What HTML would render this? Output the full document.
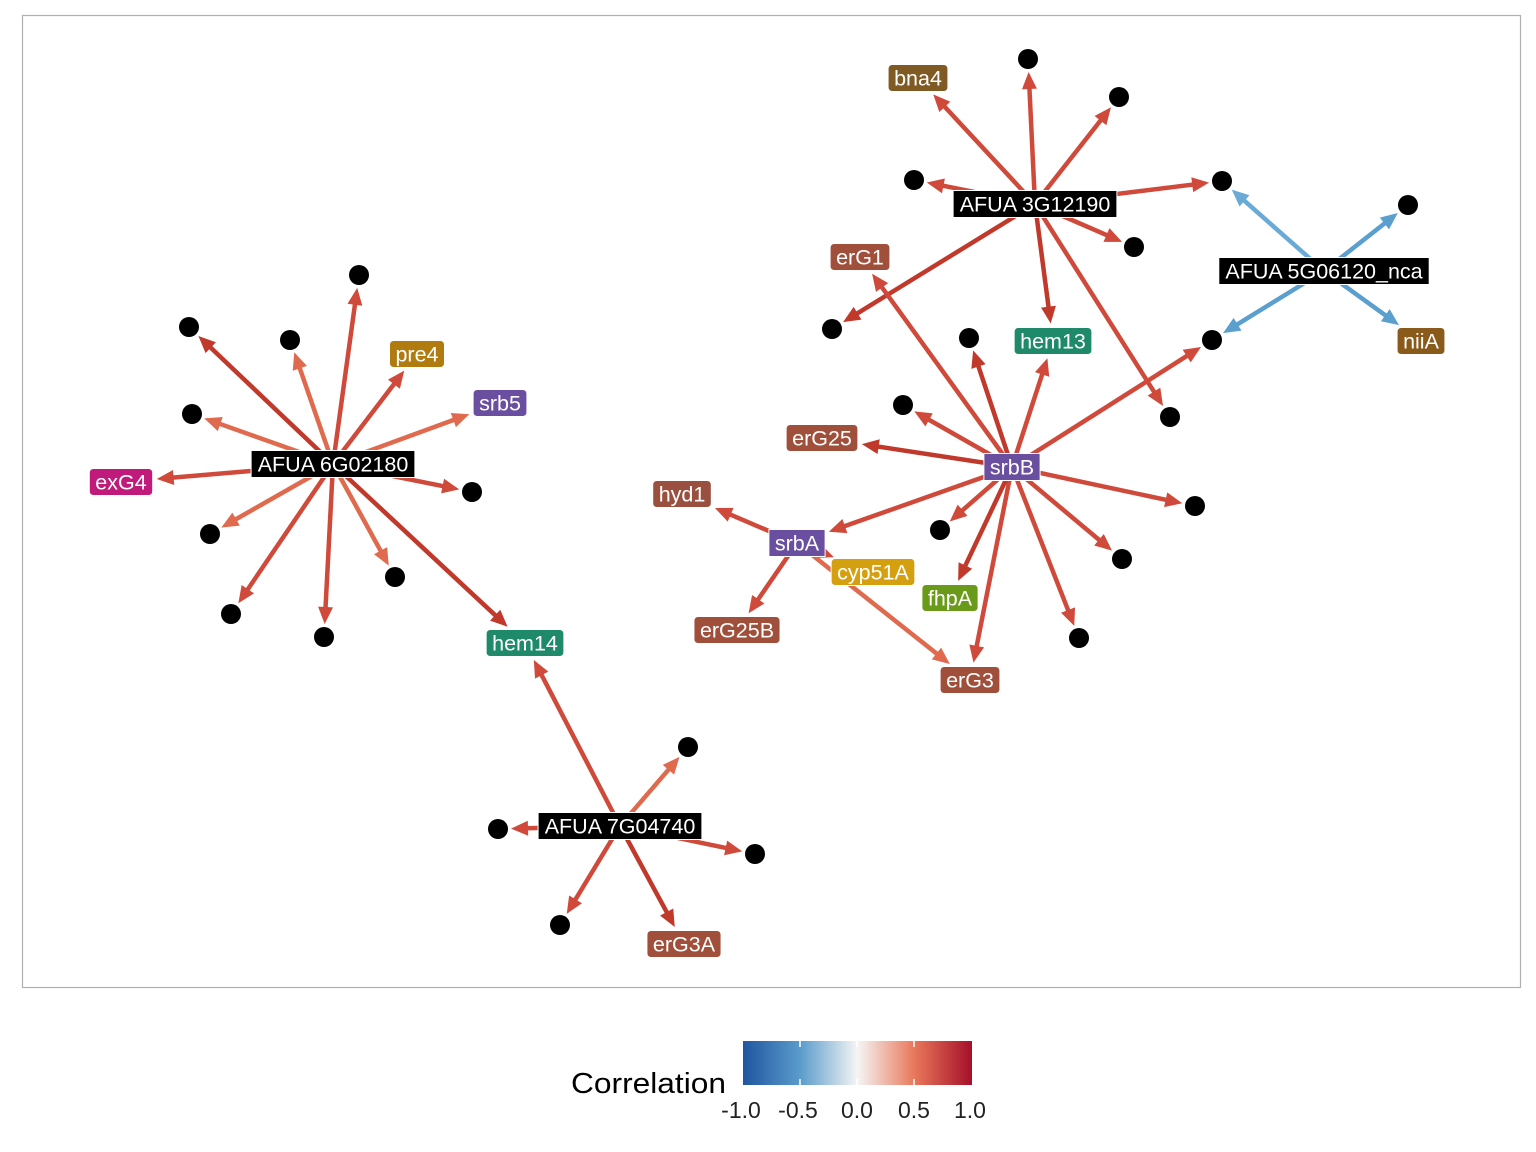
<!DOCTYPE html>
<html><head><meta charset="utf-8"><style>
body{margin:0;background:#fff;}
svg{display:block;font-family:"Liberation Sans",sans-serif;}
</style></head><body>
<svg id="s" width="1536" height="1152" xmlns="http://www.w3.org/2000/svg">
<defs>
<linearGradient id="g" x1="0" x2="1" y1="0" y2="0">
<stop offset="0" stop-color="#2155a0"/><stop offset="0.25" stop-color="#5a9ccb"/><stop offset="0.5" stop-color="#f5f5f5"/><stop offset="0.75" stop-color="#e8775a"/><stop offset="1" stop-color="#a50f2a"/>
</linearGradient>
</defs>
<rect x="22.5" y="15.5" width="1498" height="972" fill="none" stroke="#b0b0b0" stroke-width="1.2"/>
<g id="edges"></g><g id="nodes"></g>
<rect x="743" y="1041" width="229" height="44" fill="url(#g)"/>
<g stroke="#fff" stroke-width="1.5"><line x1="800" y1="1041" x2="800" y2="1047"/><line x1="800" y1="1079" x2="800" y2="1085"/><line x1="857" y1="1041" x2="857" y2="1047"/><line x1="857" y1="1079" x2="857" y2="1085"/><line x1="914" y1="1041" x2="914" y2="1047"/><line x1="914" y1="1079" x2="914" y2="1085"/></g>
<text x="571" y="1093" font-size="29" fill="#000" textLength="155" lengthAdjust="spacingAndGlyphs">Correlation</text>
<g font-size="23" fill="#222" text-anchor="middle"><text x="741" y="1118">-1.0</text><text x="798" y="1118">-0.5</text><text x="857" y="1118">0.0</text><text x="914" y="1118">0.5</text><text x="970" y="1118">1.0</text></g>
</svg>
<script>
const N={
h6:[333,464,"AFUA 6G02180","#000",1],h7:[620,826,"AFUA 7G04740","#000",1],h3:[1035,204,"AFUA 3G12190","#000",1],h5:[1324,271,"AFUA 5G06120_nca","#000",1],
srbB:[1012,467,"srbB","#6a4fa0",1],srbA:[797,543,"srbA","#6a4fa0",1],
pre4:[417,354,"pre4","#b07c10"],srb5:[500,403,"srb5","#6a4fa0"],exG4:[121,482,"exG4","#c01a7a"],hem14:[525,643,"hem14","#1e8a6a"],
erG3A:[684,944,"erG3A","#a0503a"],bna4:[918,78,"bna4","#7f5a23"],erG1:[860,257,"erG1","#a0503a"],hem13:[1053,341,"hem13","#1e8a6a"],
niiA:[1421,341,"niiA","#8a5a1a"],erG25:[822,438,"erG25","#a0503a"],hyd1:[682,494,"hyd1","#9a503e"],cyp51A:[873,572,"cyp51A","#d4a010"],
fhpA:[950,598,"fhpA","#6a9a1a"],erG25B:[737,630,"erG25B","#a0503a"],erG3:[970,680,"erG3","#a0503a"]};
const dots=[[189,327],[290,340],[359,275],[192,414],[472,492],[210,534],[231,614],[324,637],[395,577],[688,747],[498,829],[755,854],[560,925],[1028,59],[1119,97],[914,180],[1222,181],[1134,247],[832,329],[1170,417],[1408,205],[1212,340],[969,338],[903,405],[1195,506],[1122,559],[1079,638],[940,530]];
dots.forEach((d,i)=>N["d"+i]=[d[0],d[1],null]);
function D(x,y){let b=1e9,k;for(const i in dots){const e=Math.hypot(dots[i][0]-x,dots[i][1]-y);if(e<b){b=e;k="d"+i;}}return k;}
const R="#cf4a3a",R2="#e06a4e",R3="#c0392b",B="#5b9fcf";
const E=[
["h6",D(189,327),R3],["h6",D(290,340),R2],["h6",D(359,275),R],["h6","pre4",R],["h6","srb5",R2],["h6",D(192,414),R2],["h6","exG4",R],["h6",D(472,492),R],["h6",D(210,534),R2],["h6",D(231,614),R],["h6",D(324,637),R],["h6",D(395,577),R2],["h6","hem14",R3],
["h7","hem14",R],["h7",D(688,747),R2],["h7",D(498,829),R],["h7",D(755,854),R],["h7",D(560,925),R],["h7","erG3A",R3],
["h3","bna4",R],["h3",D(1028,59),R],["h3",D(1119,97),R],["h3",D(914,180),R],["h3",D(1222,181),R],["h3",D(1134,247),R],["h3",D(832,329),R3],["h3","hem13",R3],["h3",D(1170,417),R],
["h5",D(1222,181),"#6aaad6"],["h5",D(1408,205),B],["h5",D(1212,340),B],["h5","niiA",B],
["srbB","erG1",R],["srbB",D(969,338),R3],["srbB","hem13",R],["srbB",D(1212,340),R],["srbB",D(903,405),R],["srbB","erG25",R3],["srbB",D(1195,506),R],["srbB",D(1122,559),R],["srbB",D(1079,638),R],["srbB","erG3",R],["srbB","fhpA",R3],["srbB",D(940,530),R],["srbB","srbA",R],
["srbA","hyd1",R],["srbA","erG25B",R],["srbA","cyp51A",R],["srbA","erG3",R2]];
const NS="http://www.w3.org/2000/svg";
function el(t,a,p){const e=document.createElementNS(NS,t);for(const k in a)e.setAttribute(k,a[k]);p.appendChild(e);return e;}
const eg=document.getElementById("edges"),ng=document.getElementById("nodes");
const ctx=document.createElement("canvas").getContext("2d");ctx.font="21.5px 'Liberation Sans'";
function size(n){if(!n[2])return [11,11];const w=ctx.measureText(n[2]).width+12;return [w/2,13.5];}
E.forEach(([a,b,c])=>{const A=N[a],T=N[b];const dx=T[0]-A[0],dy=T[1]-A[1],L=Math.hypot(dx,dy);const [hw,hh]=size(T);
let t;if(!T[2]){t=(L-13)/L;}else{t=1-Math.min(hw/Math.abs(dx||1e-6),hh/Math.abs(dy||1e-6))-4/L;}
const ex=A[0]+dx*t,ey=A[1]+dy*t,ux=dx/L,uy=dy/L;
el("line",{x1:A[0],y1:A[1],x2:ex-ux*10,y2:ey-uy*10,stroke:c,"stroke-width":4.5},eg);
const px=-uy,py=ux,bx=ex-ux*17,by=ey-uy*17;
el("polygon",{points:`${ex},${ey} ${bx+px*7.5},${by+py*7.5} ${bx-px*7.5},${by-py*7.5}`,fill:c},eg);});
for(const k in N){const n=N[k];if(!n[2]){el("circle",{cx:n[0],cy:n[1],r:10,fill:"#000"},ng);continue;}
const [hw,hh]=size(n);el("rect",{x:n[0]-hw,y:n[1]-hh,width:hw*2,height:hh*2,rx:n[4]?0:4,fill:n[3],stroke:"#fff","stroke-width":1},ng);
const t=el("text",{x:n[0],y:n[1]+7.5,"font-size":21.5,fill:"#fff","text-anchor":"middle"},ng);t.textContent=n[2];}
</script>
</body></html>
